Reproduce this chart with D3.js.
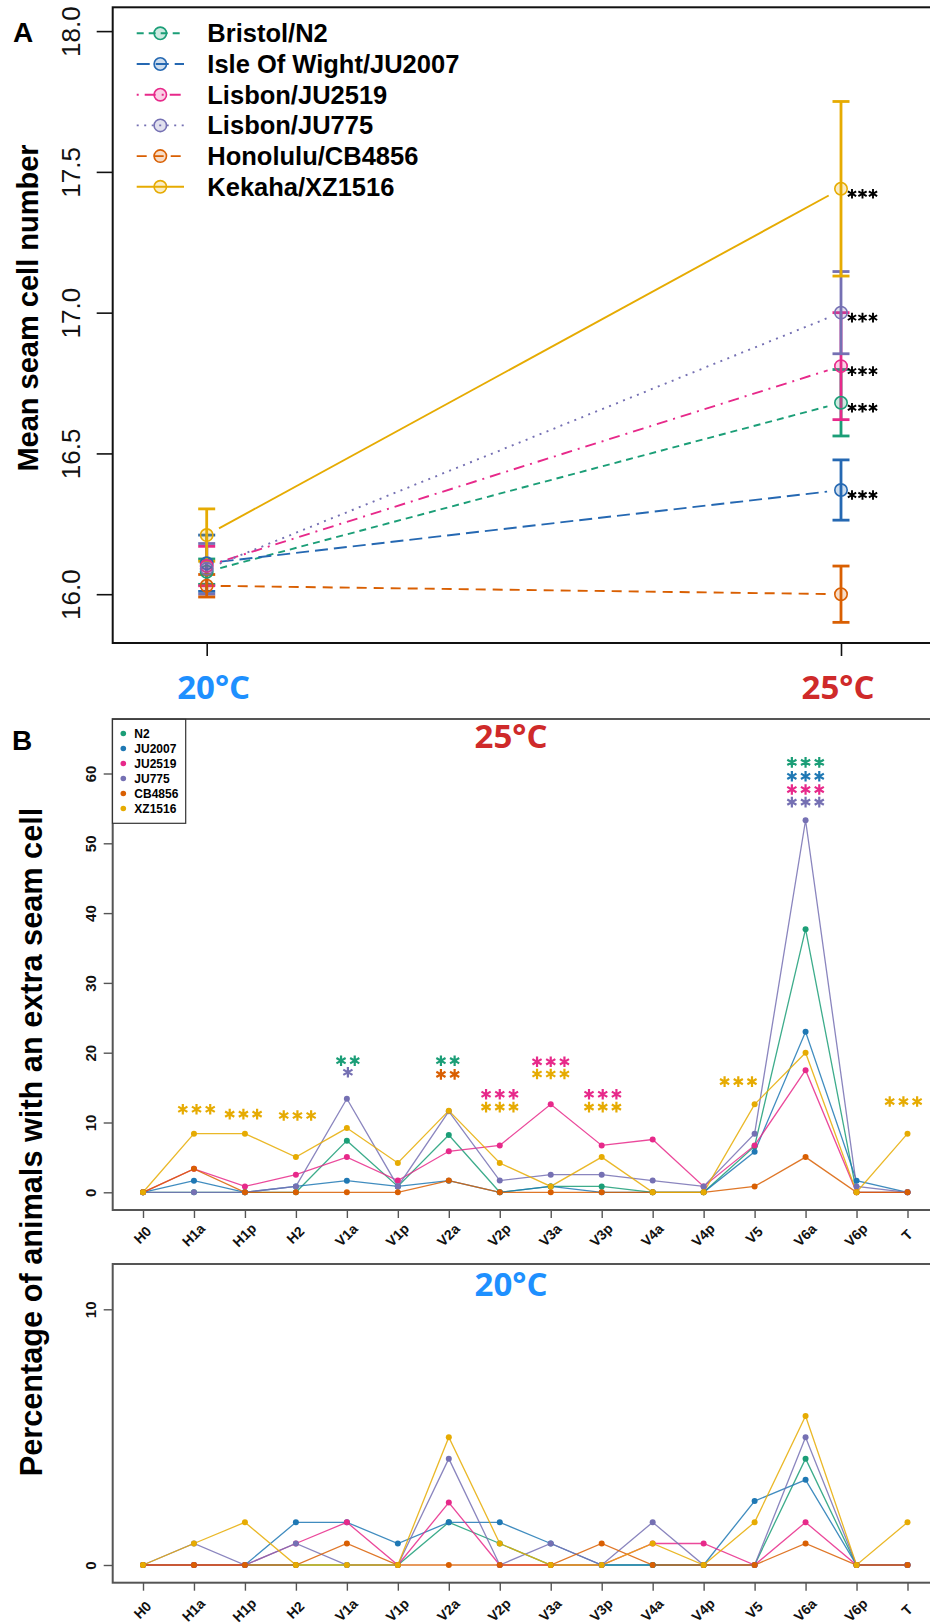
<!DOCTYPE html>
<html><head><meta charset="utf-8">
<script src="https://cdn.jsdelivr.net/npm/d3@7"></script>
<style>body{margin:0;background:#fff}svg{display:block}</style>
</head><body>
<script>
// ---------------- Panel A data ----------------
const temps = ["20°C", "25°C"];
const strainsA = ["Bristol/N2", "Isle Of Wight/JU2007", "Lisbon/JU2519", "Lisbon/JU775", "Honolulu/CB4856", "Kekaha/XZ1516"];
const mean20 = [16.08, 16.11, 16.10, 16.09, 16.03, 16.21];
const mean25 = [16.68, 16.37, 16.81, 17.00, 16.00, 17.44];
const se20 = [0.045, 0.10, 0.07, 0.09, 0.04, 0.093];
const se25 = [0.118, 0.107, 0.19, 0.146, 0.10, 0.31];
const signifA = ["***", "***", "***", "***", "", "***"];
const ticksA = [16.0, 16.5, 17.0, 17.5, 18.0];

// ---------------- Panel B data ----------------
const cells = ["H0","H1a","H1p","H2","V1a","V1p","V2a","V2p","V3a","V3p","V4a","V4p","V5","V6a","V6p","T"];
const strainsB = ["N2", "JU2007", "JU2519", "JU775", "CB4856", "XZ1516"];
const pct25_N2     = [0, 0, 0, 0, 7.4, 0.84, 8.2, 0, 0.84, 0.84, 0, 0, 6.6, 37.7, 0, 0];
const pct25_JU2007 = [0, 1.67, 0, 0.84, 1.67, 0.84, 1.67, 0, 0.84, 0, 0, 0, 5.8, 23.0, 1.67, 0];
const pct25_JU2519 = [0, 3.36, 0.84, 2.52, 5.04, 1.68, 5.88, 6.72, 12.6, 6.72, 7.56, 0.84, 6.72, 17.5, 0, 0];
const pct25_JU775  = [0, 0, 0, 0.84, 13.4, 0.84, 11.6, 1.68, 2.52, 2.52, 1.68, 0.84, 8.4, 53.3, 0.84, 0];
const pct25_CB4856 = [0, 3.36, 0, 0, 0, 0, 1.68, 0, 0, 0, 0, 0, 0.84, 5.04, 0, 0];
const pct25_XZ1516 = [0, 8.4, 8.4, 5.04, 9.2, 4.2, 11.7, 4.2, 0.84, 5.04, 0, 0, 12.6, 20.0, 0, 8.4];
const pct20_N2     = [0, 0, 0, 0, 0, 0, 1.67, 0.84, 0, 0, 0, 0, 0, 4.16, 0, 0];
const pct20_JU2007 = [0, 0, 0, 1.67, 1.67, 0.84, 1.67, 1.67, 0.84, 0, 0, 0, 2.5, 3.33, 0, 0];
const pct20_JU2519 = [0, 0, 0, 0.84, 1.67, 0, 2.44, 0, 0, 0, 0.84, 0.84, 0, 1.67, 0, 0];
const pct20_JU775  = [0, 0.84, 0, 0.84, 0, 0, 4.16, 0, 0.84, 0, 1.67, 0, 0, 5.0, 0, 0];
const pct20_CB4856 = [0, 0, 0, 0, 0.84, 0, 0, 0, 0, 0.84, 0, 0, 0, 0.84, 0, 0];
const pct20_XZ1516 = [0, 0.84, 1.67, 0, 0, 0, 5.0, 0.84, 0, 0, 0.84, 0, 1.67, 5.83, 0, 1.67];
const ticksB25 = [0, 10, 20, 30, 40, 50, 60];
const ticksB20 = [0, 10];
// significance marks at 25°C: cell, strain index, label, height (in % units)
const sigCell   = ["H1a","H1p","H2","V1a","V1a","V2a","V2a","V2p","V2p","V3a","V3a","V3p","V3p","V5","V6a","V6a","V6a","V6a","T"];
const sigStrain = [5,5,5,0,3,0,4,2,5,2,5,2,5,5,0,1,2,3,5];
const sigLabel  = ["***","***","***","**","*","**","**","***","***","***","***","***","***","***","***","***","***","***","***"];
const sigY      = [11.9,11.2,11.0,18.85,17.2,18.85,16.9,14.05,12.2,18.7,16.95,14.05,12.2,15.85,61.6,59.6,57.7,55.9,13.0];
const sigShift  = [0.05,-0.03,0.03,0.02,0.02,-0.02,-0.02,0,0,0,0,0.02,0.02,-0.32,0,0,0,0,-0.08];

const colA = ["#1B9E77", "#2568B2", "#E7298A", "#7570B3", "#D95F02", "#E6AB02"];
const colB = ["#1B9E77", "#1F78B4", "#E7298A", "#7570B3", "#D95F02", "#E6AB02"];
const dashA = ["7,5", "13,6", "2,6,11,6", "2,5.5", "10,7", null];
const tempCol = ["#1E90FF", "#CF2A2A"];
const FONT = "'Liberation Sans', Arial, sans-serif";
const TFONT = "'Open Sans', 'Liberation Sans', sans-serif";

const svg = d3.select("body").append("svg").attr("width", 930).attr("height", 1624)
  .style("font-family", FONT);

function asterisks(g, cx, cy, n, spacing, r, color, sw) {
  for (let i = 0; i < n; i++) {
    const x = cx + (i - (n - 1) / 2) * spacing;
    let d = "";
    for (const a of [90, 30, 150]) {
      const rad = a * Math.PI / 180, dx = r * Math.cos(rad), dy = r * Math.sin(rad);
      d += `M${x - dx},${cy - dy}L${x + dx},${cy + dy}`;
    }
    g.append("path").attr("d", d).attr("stroke", color).attr("stroke-width", sw).attr("fill", "none");
  }
}

// ================= PANEL A =================
const gA = svg.append("g");
const yA = d3.scaleLinear().domain([16, 18]).range([594.2, 31.1]);
const xA = d3.scalePoint().domain(temps).range([206.7, 841]);
const boxA = {l: 112.7, t: 7.3, r: 940, b: 643};

// connecting lines with R type="b" gaps
const gap = 14;
strainsA.forEach((s, i) => {
  const x1 = xA(temps[0]), y1 = yA(mean20[i]), x2 = xA(temps[1]), y2 = yA(mean25[i]);
  const L = Math.hypot(x2 - x1, y2 - y1), ux = (x2 - x1) / L, uy = (y2 - y1) / L;
  gA.append("line").attr("x1", x1 + ux * gap).attr("y1", y1 + uy * gap)
    .attr("x2", x2 - ux * gap).attr("y2", y2 - uy * gap)
    .attr("stroke", colA[i]).attr("stroke-width", 1.9)
    .attr("stroke-dasharray", dashA[i]);
});
// error bars + points
strainsA.forEach((s, i) => {
  [[temps[0], mean20[i], se20[i]], [temps[1], mean25[i], se25[i]]].forEach(([t, m, e]) => {
    const x = xA(t);
    gA.append("line").attr("x1", x).attr("x2", x).attr("y1", yA(m + e)).attr("y2", yA(m - e))
      .attr("stroke", colA[i]).attr("stroke-width", 2.8);
    [m + e, m - e].forEach(v => gA.append("line").attr("x1", x - 8.5).attr("x2", x + 8.5)
      .attr("y1", yA(v)).attr("y2", yA(v)).attr("stroke", colA[i]).attr("stroke-width", 2.8));
  });
});
strainsA.forEach((s, i) => {
  [[temps[0], mean20[i]], [temps[1], mean25[i]]].forEach(([t, m]) => {
    gA.append("circle").attr("cx", xA(t)).attr("cy", yA(m)).attr("r", 6.2)
      .attr("fill", d3.color(colA[i]).copy({opacity: 0.22})).attr("stroke", colA[i]).attr("stroke-width", 1.6);
  });
  if (signifA[i]) asterisks(gA, xA(temps[1]) + 21.5, yA(mean25[i]) + 5, signifA[i].length, 10.5, 4.8, "#000", 1.9);
});
// box
gA.append("rect").attr("x", boxA.l).attr("y", boxA.t).attr("width", boxA.r - boxA.l).attr("height", boxA.b - boxA.t)
  .attr("fill", "none").attr("stroke", "#111").attr("stroke-width", 2);
// y axis
const axA = gA.append("g").attr("transform", `translate(${boxA.l},0)`)
  .call(d3.axisLeft(yA).tickValues(ticksA).tickFormat(d3.format(".1f")).tickSize(16).tickSizeOuter(0));
axA.select(".domain").remove();
axA.selectAll(".tick line").attr("stroke", "#111").attr("stroke-width", 1.6);
axA.selectAll(".tick text").attr("font-size", 26).attr("font-family", FONT).attr("fill", "#111")
  .attr("text-anchor", "middle").attr("x", 0).attr("dy", 0)
  .attr("transform", "translate(-42,0) rotate(-90)").attr("dominant-baseline", "central");
// x axis
const axAx = gA.append("g").attr("transform", `translate(0,${boxA.b})`)
  .call(d3.axisBottom(xA).tickSize(13).tickSizeOuter(0).tickFormat(""));
axAx.select(".domain").remove();
axAx.selectAll(".tick line").attr("stroke", "#111").attr("stroke-width", 1.6);
temps.forEach((t, i) => {
  gA.append("text").attr("x", xA(t) + (i === 0 ? 7 : -3)).attr("y", 686).attr("text-anchor", "middle")
    .attr("dominant-baseline", "central").attr("font-family", TFONT).attr("font-weight", "bold")
    .attr("font-size", 33).attr("fill", tempCol[i]).text(t);
});
gA.append("text").attr("transform", "translate(28,308) rotate(-90)").attr("text-anchor", "middle")
  .attr("dominant-baseline", "central").attr("font-weight", "bold").attr("font-size", 29).text("Mean seam cell number");
gA.append("text").attr("x", 23).attr("y", 42).attr("text-anchor", "middle")
  .attr("font-weight", "bold").attr("font-size", 28).text("A");
// legend A
strainsA.forEach((s, i) => {
  const y = 33.3 + i * 30.7;
  gA.append("line").attr("x1", 136.7).attr("x2", 184).attr("y1", y).attr("y2", y)
    .attr("stroke", colA[i]).attr("stroke-width", 1.9).attr("stroke-dasharray", dashA[i]);
  gA.append("circle").attr("cx", 160.3).attr("cy", y).attr("r", 6.2)
    .attr("fill", d3.color(colA[i]).copy({opacity: 0.22})).attr("stroke", colA[i]).attr("stroke-width", 1.6);
  gA.append("text").attr("x", 207.3).attr("y", y).attr("dominant-baseline", "central")
    .attr("font-weight", "bold").attr("font-size", 25.5).text(s);
});

// ================= PANEL B =================
const xB = d3.scalePoint().domain(cells).range([143, 907.5]);
const data25 = [pct25_N2, pct25_JU2007, pct25_JU2519, pct25_JU775, pct25_CB4856, pct25_XZ1516];
const data20 = [pct20_N2, pct20_JU2007, pct20_JU2519, pct20_JU775, pct20_CB4856, pct20_XZ1516];

function panelB(g, data, y, box, ticks, labelY, title, tcol, titleY) {
  const line = d3.line().x((d, j) => xB(cells[j])).y(d => y(d));
  data.forEach((arr, i) => {
    g.append("path").datum(arr).attr("d", line).attr("fill", "none")
      .attr("stroke", colB[i]).attr("stroke-width", 1.3).attr("stroke-opacity", 0.85);
  });
  data.forEach((arr, i) => {
    g.selectAll(null).data(arr).enter().append("circle")
      .attr("cx", (d, j) => xB(cells[j])).attr("cy", d => y(d)).attr("r", 3).attr("fill", colB[i]);
  });
  g.append("rect").attr("x", box.l).attr("y", box.t).attr("width", box.r - box.l).attr("height", box.b - box.t)
    .attr("fill", "none").attr("stroke", "#555").attr("stroke-width", 2);
  const ay = g.append("g").attr("transform", `translate(${box.l},0)`)
    .call(d3.axisLeft(y).tickValues(ticks).tickSize(9).tickSizeOuter(0));
  ay.select(".domain").remove();
  ay.selectAll(".tick line").attr("stroke", "#555").attr("stroke-width", 1.4);
  ay.selectAll(".tick text").attr("font-size", 15).attr("font-weight", "bold").attr("font-family", FONT)
    .attr("fill", "#111").attr("text-anchor", "middle").attr("x", 0).attr("dy", 0)
    .attr("transform", "translate(-22,0) rotate(-90)").attr("dominant-baseline", "central");
  const ax = g.append("g").attr("transform", `translate(0,${box.b})`)
    .call(d3.axisBottom(xB).tickSize(8).tickSizeOuter(0));
  ax.select(".domain").remove();
  ax.selectAll(".tick line").attr("stroke", "#555").attr("stroke-width", 1.4);
  ax.selectAll(".tick text").attr("font-size", 14).attr("font-weight", "bold").attr("font-family", FONT)
    .attr("fill", "#111").attr("text-anchor", "middle").attr("dy", 0).attr("y", 0)
    .attr("dominant-baseline", "central")
    .attr("transform", `translate(-1,${labelY - box.b}) rotate(-45)`);
  g.append("text").attr("x", 511).attr("y", titleY).attr("text-anchor", "middle").attr("dominant-baseline", "central")
    .attr("font-family", TFONT).attr("font-weight", "bold").attr("font-size", 33).attr("fill", tcol).text(title);
}

const gB1 = svg.append("g");
const yB25 = d3.scaleLinear().domain([0, 60]).range([1192.3, 773.5]);
panelB(gB1, data25, yB25, {l: 112.7, t: 719, r: 940, b: 1210}, ticksB25, 1235, temps[1], tempCol[1], 735);
sigCell.forEach((c, k) => {
  const sp = xB.step();
  asterisks(gB1, xB(c) + sigShift[k] * sp, yB25(sigY[k]), sigLabel[k].length, 13.7, 5.3, colB[sigStrain[k]], 2.2);
});
// legend B
gB1.append("rect").attr("x", 112.5).attr("y", 719.3).attr("width", 73.2).attr("height", 104)
  .attr("fill", "#fff").attr("stroke", "#333").attr("stroke-width", 1.2);
strainsB.forEach((s, i) => {
  const y = 733.5 + i * 15;
  gB1.append("circle").attr("cx", 123.3).attr("cy", y).attr("r", 2.8).attr("fill", colB[i]);
  gB1.append("text").attr("x", 134.3).attr("y", y).attr("dominant-baseline", "central")
    .attr("font-weight", "bold").attr("font-size", 12).text(s);
});
svg.append("text").attr("x", 22).attr("y", 750).attr("text-anchor", "middle")
  .attr("font-weight", "bold").attr("font-size", 28).text("B");

const gB2 = svg.append("g");
const yB20 = d3.scaleLinear().domain([0, 10]).range([1565, 1309.3]);
panelB(gB2, data20, yB20, {l: 112.7, t: 1264, r: 940, b: 1582.7}, ticksB20, 1610, temps[0], tempCol[0], 1283);

svg.append("text").attr("transform", "translate(31,1142) rotate(-90)").attr("text-anchor", "middle")
  .attr("dominant-baseline", "central").attr("font-weight", "bold").attr("font-size", 30.7)
  .text("Percentage of animals with an extra seam cell");
</script>
</body></html>
